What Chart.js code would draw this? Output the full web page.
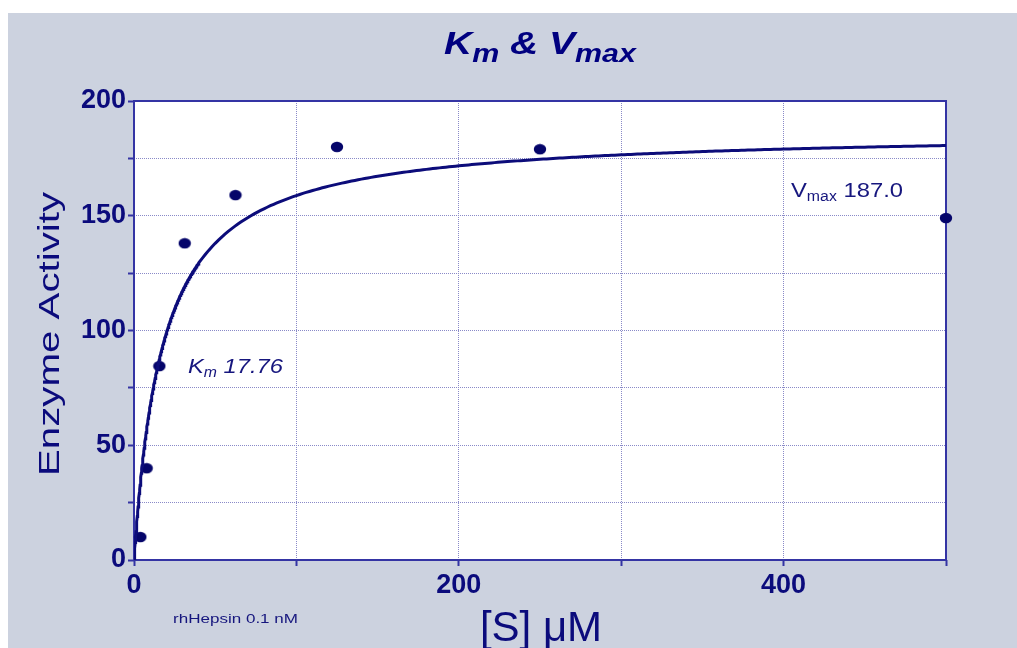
<!DOCTYPE html>
<html>
<head>
<meta charset="utf-8">
<script src="https://cdn.jsdelivr.net/npm/chart.js@4.4.1/dist/chart.umd.min.js"></script>
<style>
  html, body { margin: 0; padding: 0; background: #ffffff; }
  #wrap { position: absolute; left: 0; top: 0; width: 1017px; height: 648px; }
  canvas { display: block; }
</style>
</head>
<body>
<div id="wrap"><canvas id="c" width="1017" height="648"></canvas></div>
<script>
// Substrate concentrations [S] (µM) and measured enzyme activity
const substrate = [3.9, 7.8, 15.6, 31.25, 62.5, 125, 250, 500];
const activity  = [10, 40, 84.5, 138, 159, 180, 179, 149];

// Michaelis–Menten fit parameters
const KM = 17.76;
const VMAX = 187.0;

// Labelled ticks
const xTickLabels = ['0', '200', '400'];
const yTickLabels = ['0', '50', '100', '150', '200'];

const FONT = "'Liberation Sans', Arial, Helvetica, sans-serif";
const NAVY = '#0b0b7c';
const TEXT = '#16167e';
const FRAME = '#3434a4';
const GRID = '#8a8ac8';

// Measured points
const pointData = substrate.map((s, i) => ({ x: s, y: activity[i] }));

// Fitted hyperbola v = Vmax·[S] / (Km + [S]), sampled finely near the origin
const fitData = [];
for (let s = 0; s <= 500; s += (s < 40 ? 0.25 : 2)) {
  fitData.push({ x: s, y: VMAX * s / (KM + s) });
}

// Slightly wide elliptical marker
const marker = document.createElement('canvas');
marker.width = 14; marker.height = 12;
(function () {
  const m = marker.getContext('2d');
  m.fillStyle = '#05056a';
  m.beginPath();
  m.ellipse(7, 6, 6.2, 5.2, 0, 0, Math.PI * 2);
  m.fill();
})();

// Draws a sequence of text runs (for subscripts), optionally stretched to a width
function drawRuns(ctx, x, y, runs, opts) {
  ctx.save();
  ctx.textBaseline = 'alphabetic';
  ctx.textAlign = 'left';
  let total = 0;
  runs.forEach(r => { ctx.font = r.font; r.w = ctx.measureText(r.text).width; total += r.w; });
  const sx = opts.width ? opts.width / total : 1;
  ctx.translate(x, y);
  if (opts.rotate) ctx.rotate(opts.rotate);
  ctx.scale(sx, 1);
  let cx = opts.align === 'center' ? -total / 2 : 0;
  ctx.fillStyle = opts.color;
  runs.forEach(r => {
    ctx.font = r.font;
    ctx.fillText(r.text, cx, r.dy || 0);
    cx += r.w;
  });
  ctx.restore();
}

const backdrop = {
  id: 'backdrop',
  beforeDraw(chart) {
    const { ctx, chartArea: a } = chart;
    ctx.save();
    ctx.fillStyle = '#ffffff';
    ctx.fillRect(0, 0, chart.width, chart.height);
    ctx.fillStyle = '#ccd2df';
    ctx.fillRect(8, 13, chart.width - 8, chart.height - 13);
    ctx.fillStyle = '#ffffff';
    ctx.fillRect(a.left, a.top, a.right - a.left, a.bottom - a.top);
    ctx.restore();
  },
  beforeDatasetsDraw(chart) {
    const { ctx, chartArea: a } = chart;
    ctx.save();
    ctx.strokeStyle = FRAME;
    ctx.lineWidth = 2;
    ctx.strokeRect(a.left, a.top, a.right - a.left, a.bottom - a.top);
    ctx.restore();
  },
  afterDraw(chart) {
    const { ctx, chartArea: a } = chart;
    const cx = (a.left + a.right) / 2;

    // Title: K_m & V_max
    const big = `italic bold 32px ${FONT}`;
    const sub = `italic bold 25px ${FONT}`;
    drawRuns(ctx, cx, 54, [
      { text: 'K', font: big },
      { text: 'm', font: sub, dy: 8 },
      { text: ' & V', font: big },
      { text: 'max', font: sub, dy: 8 }
    ], { align: 'center', width: 192, color: '#000080' });

    // Axis titles
    drawRuns(ctx, cx + 1, 641, [
      { text: '[S] \u03bcM', font: `42px ${FONT}` }
    ], { align: 'center', color: NAVY });

    drawRuns(ctx, 59, 334, [
      { text: 'Enzyme Activity', font: `30px ${FONT}` }
    ], { align: 'center', width: 284, rotate: -Math.PI / 2, color: NAVY });

    // Fit parameter labels
    drawRuns(ctx, 188, 373, [
      { text: 'K', font: `italic 21px ${FONT}` },
      { text: 'm', font: `italic 14px ${FONT}`, dy: 4 },
      { text: ' ' + KM.toFixed(2), font: `italic 21px ${FONT}` }
    ], { width: 95, color: TEXT });

    drawRuns(ctx, 791, 197, [
      { text: 'V', font: `21px ${FONT}` },
      { text: 'max', font: `14px ${FONT}`, dy: 4 },
      { text: ' ' + VMAX.toFixed(1), font: `21px ${FONT}` }
    ], { width: 112, color: TEXT });

    drawRuns(ctx, 173, 623, [
      { text: 'rhHepsin 0.1 nM', font: `13.5px ${FONT}` }
    ], { width: 125, color: TEXT });
  }
};

const tickFont = { family: FONT, size: 27, weight: 'bold' };

new Chart(document.getElementById('c'), {
  type: 'scatter',
  data: {
    datasets: [
      {
        data: fitData,
        showLine: true,
        pointRadius: 0,
        borderColor: '#0c0c7a',
        borderWidth: 3,
        tension: 0,
        fill: false
      },
      {
        data: pointData,
        pointStyle: marker,
        pointRadius: 6,
        clip: false
      }
    ]
  },
  options: {
    responsive: false,
    animation: false,
    devicePixelRatio: 1,
    layout: { padding: { left: 0, top: 101, right: 71, bottom: 0 } },
    plugins: { legend: { display: false }, tooltip: { enabled: false } },
    scales: {
      x: {
        type: 'linear',
        min: 0, max: 500,
        afterFit(scale) { scale.height = 88; },
        ticks: {
          stepSize: 100,
          autoSkip: false,
          maxRotation: 0,
          padding: 3,
          color: NAVY,
          font: tickFont,
          callback: v => (xTickLabels.includes(String(v)) ? String(v) : '')
        },
        grid: {
          color: GRID, lineWidth: 1, borderDash: [1, 1],
          tickColor: FRAME, tickLength: 6, tickWidth: 2, tickBorderDash: []
        },
        border: { display: false, dash: [1, 1] }
      },
      y: {
        type: 'linear',
        min: 0, max: 200,
        afterFit(scale) { scale.width = 134; },
        ticks: {
          stepSize: 25,
          autoSkip: false,
          padding: 2,
          color: NAVY,
          font: tickFont,
          callback: v => (yTickLabels.includes(String(v)) ? String(v) : '')
        },
        grid: {
          color: GRID, lineWidth: 1, borderDash: [1, 1],
          tickColor: FRAME, tickLength: 6, tickWidth: 2, tickBorderDash: []
        },
        border: { display: false, dash: [1, 1] }
      }
    }
  },
  plugins: [backdrop]
});
</script>
</body>
</html>
